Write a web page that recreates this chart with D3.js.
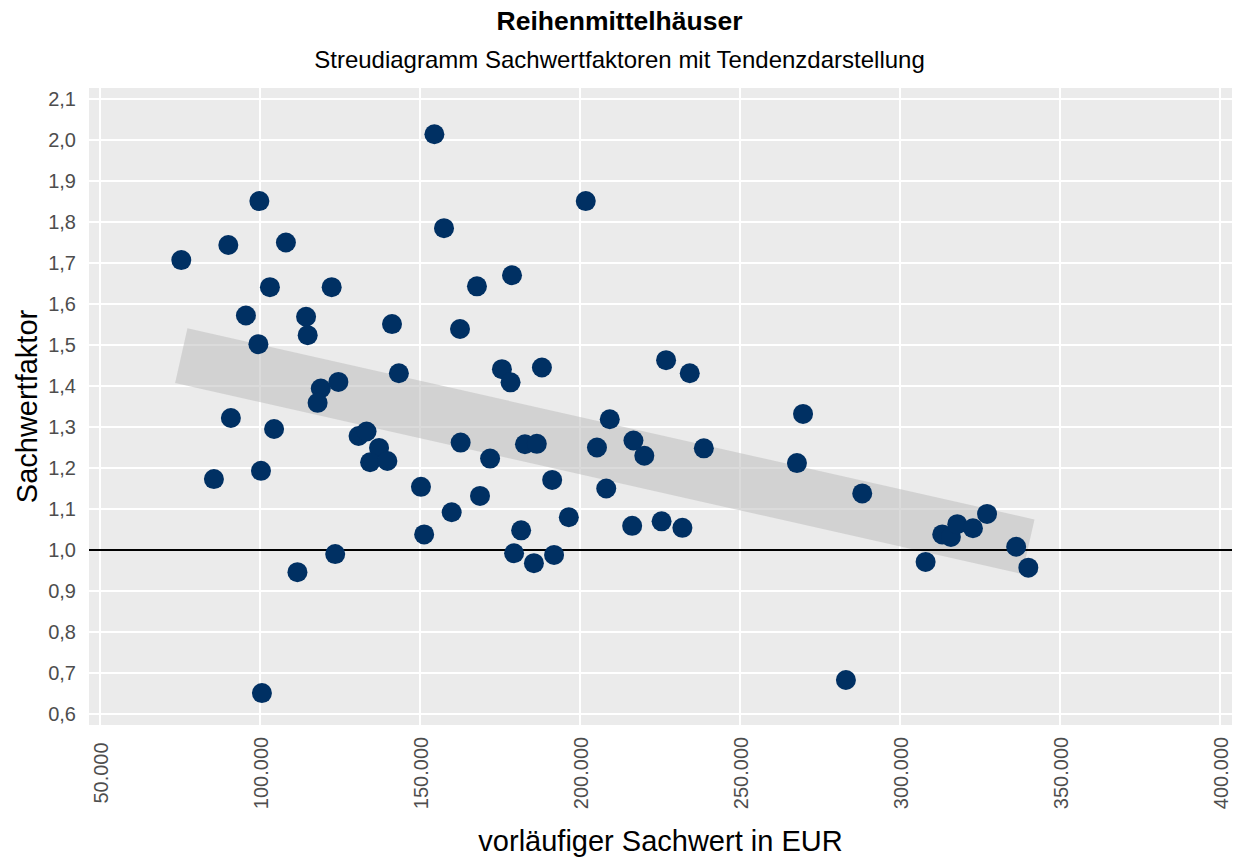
<!DOCTYPE html>
<html>
<head>
<meta charset="utf-8">
<script src="https://cdn.jsdelivr.net/npm/d3@7"></script>
<style>
  body { margin: 0; background: #fff; }
  svg { display: block; font-family: "Liberation Sans", Arial, sans-serif; }
</style>
</head>
<body>
<script>
/* values */
var sachwert = [75400, 90100, 99800, 108100, 95600, 103100, 99500, 90900, 104400, 85600,
  100300, 111700, 100600, 114400, 114900, 122400, 119000, 118000, 124500, 123500,
  130800, 133300, 137200, 134400, 139800, 141250, 143400, 150300, 151300, 154500,
  157500, 159900, 162500, 162700, 167800, 168750, 171900, 175600, 178300, 178750,
  179400, 181600, 182800, 186500, 185600, 188100, 191300, 191900, 196500, 201800,
  205300, 209300, 208200, 216700, 216300, 220100, 226900, 225500, 232000, 234300,
  238700, 267800, 269700, 283100, 288200, 308000, 313200, 315900, 317900, 322800,
  327200, 336300, 340100];
var faktor = [1.707, 1.744, 1.851, 1.750, 1.572, 1.641, 1.502, 1.322, 1.295, 1.173,
  1.193, 0.946, 0.651, 1.569, 1.524, 1.641, 1.394, 1.359, 1.410, 0.990,
  1.278, 1.289, 1.249, 1.214, 1.217, 1.551, 1.431, 1.154, 1.038, 2.014,
  1.785, 1.092, 1.539, 1.262, 1.643, 1.132, 1.223, 1.441, 1.409, 1.670,
  0.992, 1.048, 1.258, 1.259, 0.968, 1.445, 1.171, 0.988, 1.080, 1.851,
  1.250, 1.319, 1.150, 1.267, 1.059, 1.230, 1.463, 1.070, 1.054, 1.431,
  1.248, 1.212, 1.332, 0.683, 1.138, 0.971, 1.038, 1.032, 1.063, 1.053,
  1.088, 1.008, 0.957];

// trend band (start and end of the thick line)
var trendX = [75400, 340100];
var trendY = [1.474, 1.008];

var xTicks = [50000, 100000, 150000, 200000, 250000, 300000, 350000, 400000];
var yTicks = [0.6, 0.7, 0.8, 0.9, 1.0, 1.1, 1.2, 1.3, 1.4, 1.5, 1.6, 1.7, 1.8, 1.9, 2.0, 2.1];

var de = d3.formatLocale({ decimal: ",", thousands: ".", grouping: [3], currency: ["", " €"] });

var width = 1239, height = 860;
var margin = { top: 88, right: 7, bottom: 135, left: 89 };

var svg = d3.select("body")
    .append("svg")
    .attr("width", width)
    .attr("height", height);

x = d3.scaleLinear()
    .domain([46562, 403750])
    .range([margin.left, width - margin.right]);

y = d3.scaleLinear()
    .domain([0.5732, 2.1268])
    .range([height - margin.bottom, margin.top]);

// panel background
svg.append("rect")
    .attr("x", margin.left)
    .attr("y", margin.top)
    .attr("width", width - margin.left - margin.right)
    .attr("height", height - margin.top - margin.bottom)
    .attr("fill", "#ebebeb");

// grid lines
svg.append("g")
    .selectAll("line")
    .data(yTicks)
    .join("line")
    .attr("x1", margin.left)
    .attr("x2", width - margin.right)
    .attr("y1", d => y(d))
    .attr("y2", d => y(d))
    .attr("stroke", "#fff")
    .attr("stroke-width", 2);

svg.append("g")
    .selectAll("line")
    .data(xTicks)
    .join("line")
    .attr("x1", d => x(d))
    .attr("x2", d => x(d))
    .attr("y1", margin.top)
    .attr("y2", height - margin.bottom)
    .attr("stroke", "#fff")
    .attr("stroke-width", 2);

// axes (labels only, no ticks or domain line)
yAxis = g => g
    .attr("transform", `translate(${margin.left},0)`)
    .call(d3.axisLeft(y).tickValues(yTicks).tickFormat(de.format(".1f")).tickSize(0).tickPadding(13))
    .call(g => g.select(".domain").remove())
    .call(g => g.selectAll("text")
        .attr("fill", "#4d4d4d")
        .attr("font-size", "20px")
        .attr("font-family", "Liberation Sans, Arial, sans-serif"));

xAxis = g => g
    .attr("transform", `translate(0,${height - margin.bottom})`)
    .call(d3.axisBottom(x).tickValues(xTicks).tickFormat(de.format(",.0f")).tickSize(0))
    .call(g => g.select(".domain").remove())
    .call(g => g.selectAll("text")
        .attr("fill", "#4d4d4d")
        .attr("font-size", "20px")
        .attr("font-family", "Liberation Sans, Arial, sans-serif")
        .attr("transform", "translate(0,48) rotate(-90)")
        .attr("x", 0)
        .attr("y", 0)
        .attr("dy", "0.35em")
        .attr("text-anchor", "middle"));

svg.append("g").call(yAxis);
svg.append("g").call(xAxis);

// trend band
svg.append("line")
    .attr("x1", x(trendX[0]))
    .attr("y1", y(trendY[0]))
    .attr("x2", x(trendX[1]))
    .attr("y2", y(trendY[1]))
    .attr("stroke", "#bdbdbd")
    .attr("stroke-opacity", 0.55)
    .attr("stroke-width", 56)
    .attr("stroke-linecap", "butt");

// reference line at 1,0
svg.append("line")
    .attr("x1", margin.left)
    .attr("x2", width - margin.right)
    .attr("y1", y(1))
    .attr("y2", y(1))
    .attr("stroke", "#000")
    .attr("stroke-width", 2);

// points
svg.append("g")
    .attr("fill", "#003063")
    .selectAll("circle")
    .data(d3.range(sachwert.length))
    .join("circle")
    .attr("cx", i => x(sachwert[i]))
    .attr("cy", i => y(faktor[i]))
    .attr("r", 10);

// titles
svg.append("text")
    .attr("x", width / 2)
    .attr("y", 30)
    .attr("text-anchor", "middle")
    .attr("font-size", "26.5px")
    .attr("font-weight", "bold")
    .text("Reihenmittelhäuser");

svg.append("text")
    .attr("x", width / 2)
    .attr("y", 68)
    .attr("text-anchor", "middle")
    .attr("font-size", "24px")
    .text("Streudiagramm Sachwertfaktoren mit Tendenzdarstellung");

svg.append("text")
    .attr("x", (margin.left + width - margin.right) / 2)
    .attr("y", 851)
    .attr("text-anchor", "middle")
    .attr("font-size", "29px")
    .text("vorläufiger Sachwert in EUR");

svg.append("text")
    .attr("transform", `translate(37,${(margin.top + height - margin.bottom) / 2}) rotate(-90)`)
    .attr("text-anchor", "middle")
    .attr("font-size", "29px")
    .text("Sachwertfaktor");
</script>
</body>
</html>
